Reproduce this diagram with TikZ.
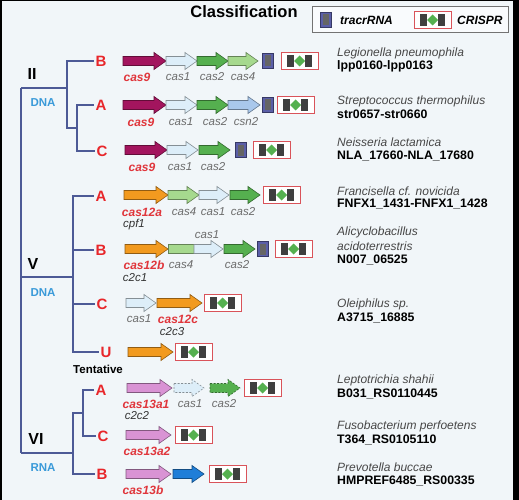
\documentclass[tikz,border=0pt]{standalone}
\usepackage{fontspec}
\setmainfont{Liberation Sans}

\definecolor{bgcol}{HTML}{F1F6F9}
\definecolor{treecol}{HTML}{4D5A96}
\definecolor{dnacol}{HTML}{3A9AD9}
\definecolor{lettercol}{HTML}{E8262A}
\definecolor{redlblcol}{HTML}{E0363C}
\definecolor{graylblcol}{HTML}{6B6B6B}
\definecolor{cas9col}{HTML}{A3155E}
\definecolor{cas1col}{HTML}{DDEEF9}
\definecolor{cas2col}{HTML}{55B04F}
\definecolor{cas4col}{HTML}{A6D98E}
\definecolor{csn2col}{HTML}{A9C8EC}
\definecolor{cas12col}{HTML}{F29A1F}
\definecolor{cas13col}{HTML}{D993D4}
\definecolor{cas13bcol}{HTML}{1F7ED8}
\definecolor{tracrcol}{HTML}{5B5FA8}
\definecolor{repeatcol}{HTML}{3F3F3F}
\definecolor{crisprred}{HTML}{D9535A}

% gene arrow: style, x start, x tip, y middle
\newcommand{\gene}[4]{%
  \draw[#1] (#2,#4-4.5) -- (#3-12,#4-4.5) -- (#3-12,#4-8.5) -- (#3,#4)
    -- (#3-12,#4+8.5) -- (#3-12,#4+4.5) -- (#2,#4+4.5) -- cycle;}
% tracrRNA box: x left, y middle
\newcommand{\tracr}[2]{%
  \draw[tracrbox] (#1,#2-7.5) rectangle ++(11,15);
  \fill[repeatcol!80] (#1+2.5,#2-5.5) rectangle ++(6,11);}
% CRISPR array: x left, y middle
\newcommand{\crispr}[2]{%
  \draw[crisprbox] (#1,#2-8.5) rectangle ++(37,17);
  \fill[repeatcol] (#1+6,#2-6) rectangle ++(7,12);
  \fill[cas2col] (#1+18.5,#2-5.5) -- (#1+24,#2) -- (#1+18.5,#2+5.5) -- (#1+13,#2) -- cycle;
  \fill[repeatcol] (#1+24,#2-6) rectangle ++(7,12);}

\begin{document}
\begin{tikzpicture}[x=1pt, y=-1pt,
    tree/.style={draw=treecol, line width=1.2pt},
    gene/.style={draw=#1!60!black, fill=#1, line width=0.6pt},
    tracrbox/.style={draw=tracrcol!60!black, fill=tracrcol, line width=0.6pt},
    crisprbox/.style={draw=crisprred, fill=white, line width=0.8pt},
    rowletter/.style={text=lettercol, inner sep=1.5pt, font=\fontsize{15}{15}\selectfont\bfseries},
    classname/.style={inner sep=0pt, font=\fontsize{16}{16}\selectfont\bfseries},
    moltype/.style={text=dnacol, inner sep=0pt, font=\fontsize{11.5}{12}\selectfont\bfseries},
    genelbl/.style={text=graylblcol, inner sep=0pt, font=\fontsize{11.5}{12}\selectfont\itshape},
    redlbl/.style={text=redlblcol, inner sep=0pt, font=\fontsize{12}{12}\selectfont\bfseries\itshape},
    altlbl/.style={text=black!80, inner sep=0pt, font=\fontsize{11.5}{12}\selectfont\itshape},
    species/.style={anchor=west, text=black!72, inner sep=0pt, font=\fontsize{12}{12}\selectfont\itshape},
    locus/.style={anchor=west, inner sep=0pt, font=\fontsize{12.3}{12}\selectfont\bfseries}]
  \useasboundingbox (0,0) rectangle (519,500);

  % Frame and background
  \fill[black] (0,0) rectangle (519,500);
  \fill[bgcol] (2,1) rectangle (513,500);

  % Title and legend
  \node[inner sep=0pt, font=\fontsize{16.5}{17}\selectfont\bfseries] (title) at (244,12) {Classification};
  \draw[draw=black!55, fill=white!60!bgcol, line width=1pt] (312,7) rectangle (508,33);
  \tracr{320}{20}
  \node[anchor=west, inner sep=0pt, font=\fontsize{12}{12}\selectfont\bfseries\itshape] (legtracr) at (340,20) {tracrRNA};
  \crispr{414}{20}
  \node[anchor=west, inner sep=0pt, font=\fontsize{12}{12}\selectfont\bfseries\itshape] (legcrispr) at (457,20) {CRISPR};

  % Class and type names
  \node[classname] (II) at (32,74) {II};
  \node[moltype] (dnaII) at (43,103) {DNA};
  \node[classname] (V) at (33,264) {V};
  \node[moltype] (dnaV) at (43,293) {DNA};
  \node[classname] (VI) at (36,439) {VI};
  \node[moltype] (rnaVI) at (43,468) {RNA};

  \node[rowletter] (IIB) at (101,61) {B};
  \node[rowletter] (IIA) at (101,105) {A};
  \node[rowletter] (IIC) at (102,151) {C};
  \node[rowletter] (VA) at (101,196) {A};
  \node[rowletter] (VB) at (101,250) {B};
  \node[rowletter] (VC) at (102,304) {C};
  \node[rowletter] (VU) at (106,352) {U};
  \node[inner sep=0pt, font=\fontsize{11.5}{12}\selectfont\bfseries] (tentative) at (98,369) {Tentative};
  \node[rowletter] (VIA) at (101,390) {A};
  \node[rowletter] (VIC) at (103,436) {C};
  \node[rowletter] (VIB) at (102,474) {B};

  % Tree
  \coordinate (rootII) at (21,88);
  \coordinate (rootV) at (21,277);
  \coordinate (rootVI) at (21,453);
  \draw[tree] (rootII) -- (rootVI);
  \draw[tree] (rootII) -- (67,88);
  \draw[tree] (IIB.west) -| (67,128) -- (77,128);
  \draw[tree] (IIA.west) -| (77,151) -- (IIC.west);
  \draw[tree] (rootV) -- (73,277);
  \draw[tree] (VA.west) -| (73,352) -- (VU.west);
  \draw[tree] (73,250) -- (VB.west);
  \draw[tree] (73,304) -- (VC.west);
  \draw[tree] (rootVI) -- (73,453);
  \draw[tree] (VIA.west) -| (83,436) -- (VIC.west);
  \draw[tree] (83,413) -- (73,413) -- (73,474) -- (VIB.west);

  % Type II-B
  \gene{gene=cas9col}{123}{166}{61}
  \gene{gene=cas1col}{166}{197}{61}
  \gene{gene=cas2col}{197}{228}{61}
  \gene{gene=cas4col}{228}{258}{61}
  \tracr{262}{61}
  \crispr{281}{61}
  \node[redlbl] (c9b) at (137,77) {cas9};
  \node[genelbl] (c1b) at (178,77) {cas1};
  \node[genelbl] (c2b) at (212,77) {cas2};
  \node[genelbl] (c4b) at (243,77) {cas4};

  % Type II-A
  \gene{gene=cas9col}{123}{166}{105}
  \gene{gene=cas1col}{166}{197}{105}
  \gene{gene=cas2col}{197}{228}{105}
  \gene{gene=csn2col}{228}{260}{105}
  \tracr{262}{105}
  \crispr{277}{105}
  \node[redlbl] (c9a) at (141,122) {cas9};
  \node[genelbl] (c1a) at (181,122) {cas1};
  \node[genelbl] (c2a) at (215,122) {cas2};
  \node[genelbl] (csn2) at (246,122) {csn2};

  % Type II-C
  \gene{gene=cas9col}{125}{167}{150}
  \gene{gene=cas1col}{167}{198}{150}
  \gene{gene=cas2col}{199}{230}{150}
  \tracr{235}{150}
  \crispr{253}{150}
  \node[redlbl] (c9c) at (142,167) {cas9};
  \node[genelbl] (c1c) at (180,167) {cas1};
  \node[genelbl] (c2c) at (213,167) {cas2};

  % Type V-A
  \gene{gene=cas12col}{124}{168}{195}
  \gene{gene=cas4col}{168}{199}{195}
  \gene{gene=cas1col}{199}{229}{195}
  \gene{gene=cas2col}{230}{260}{195}
  \crispr{263}{195}
  \node[redlbl] (c12a) at (142,212) {cas12a};
  \node[genelbl] (c4va) at (184,212) {cas4};
  \node[genelbl] (c1va) at (213,212) {cas1};
  \node[genelbl] (c2va) at (243,212) {cas2};
  \node[altlbl] (cpf1) at (134,225) {cpf1};

  % Type V-B
  \gene{gene=cas12col}{125}{168}{249}
  \draw[gene=cas4col] (168,244.5) rectangle (194,253.5);
  \gene{gene=cas1col}{194}{223}{249}
  \gene{gene=cas2col}{224}{255}{249}
  \tracr{257}{249}
  \crispr{275}{249}
  \node[genelbl] (c1vb) at (207,235) {cas1};
  \node[redlbl] (c12b) at (144,265) {cas12b};
  \node[genelbl] (c4vb) at (181,265) {cas4};
  \node[genelbl] (c2vb) at (237,265) {cas2};
  \node[altlbl] (c2c1) at (135,278) {c2c1};

  % Type V-C
  \gene{gene=cas1col}{126}{156}{303}
  \gene{gene=cas12col}{157}{202}{303}
  \crispr{204}{303}
  \node[genelbl] (c1vc) at (139,319) {cas1};
  \node[redlbl] (c12c) at (178,319) {cas12c};
  \node[altlbl] (c2c3) at (172,332) {c2c3};

  % Type V-U
  \gene{gene=cas12col}{128}{173}{352}
  \crispr{175}{352}

  % Type VI-A
  \gene{gene=cas13col}{127}{172}{388}
  \gene{gene=cas1col, dashed, dash pattern=on 2pt off 1.5pt}{174}{204}{388}
  \gene{gene=cas2col, dashed, dash pattern=on 2pt off 1.5pt}{210}{240}{388}
  \crispr{244}{388}
  \node[redlbl] (c13a1) at (146,404) {cas13a1};
  \node[genelbl] (c1via) at (190,404) {cas1};
  \node[genelbl] (c2via) at (224,404) {cas2};
  \node[altlbl] (c2c2) at (137,416) {c2c2};

  % Type VI-C
  \gene{gene=cas13col}{126}{171}{435}
  \crispr{175}{435}
  \node[redlbl] (c13a2) at (147,451) {cas13a2};

  % Type VI-B
  \gene{gene=cas13col}{126}{171}{474}
  \gene{gene=cas13bcol}{173}{204}{474}
  \crispr{209}{474}
  \node[redlbl] (c13b) at (143,490) {cas13b};

  % Organisms and loci
  \node[species] (spIIB) at (337,53) {Legionella pneumophila};
  \node[locus] (locIIB) at (337,66) {lpp0160-lpp0163};
  \node[species] (spIIA) at (337,101) {Streptococcus thermophilus};
  \node[locus] (locIIA) at (337,114) {str0657-str0660};
  \node[species] (spIIC) at (337,142) {Neisseria lactamica};
  \node[locus] (locIIC) at (337,156) {NLA\_17660-NLA\_17680};
  \node[species] (spVA) at (337,191) {Francisella cf. novicida};
  \node[locus] (locVA) at (337,204) {FNFX1\_1431-FNFX1\_1428};
  \node[species] (spVB) at (337,232) {Alicyclobacillus};
  \node[species] (spVBb) at (337,246) {acidoterrestris};
  \node[locus] (locVB) at (337,260) {N007\_06525};
  \node[species] (spVC) at (337,304) {Oleiphilus sp.};
  \node[locus] (locVC) at (337,318) {A3715\_16885};
  \node[species] (spVIA) at (337,380) {Leptotrichia shahii};
  \node[locus] (locVIA) at (337,394) {B031\_RS0110445};
  \node[species] (spVIC) at (337,426) {Fusobacterium perfoetens};
  \node[locus] (locVIC) at (337,440) {T364\_RS0105110};
  \node[species] (spVIB) at (337,467) {Prevotella buccae};
  \node[locus] (locVIB) at (337,481) {HMPREF6485\_RS00335};
\end{tikzpicture}
\end{document}
